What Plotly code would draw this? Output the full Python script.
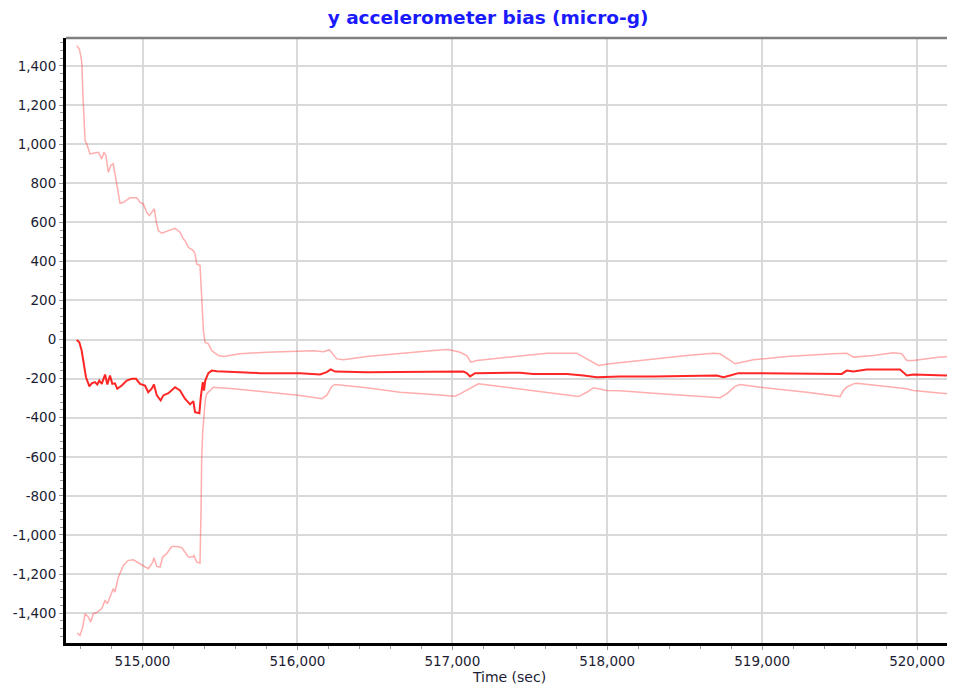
import plotly.graph_objects as go

# ---- data ----
t_mid = [514575, 514592, 514607, 514622, 514635, 514657, 514672, 514693, 514708, 514721,
         514737, 514758, 514773, 514790, 514805, 514822, 514837, 514866, 514898, 514930,
         514958, 514984, 515016, 515037, 515059, 515074, 515092, 515117, 515134, 515167,
         515210, 515242, 515274, 515307, 515328, 515339, 515367, 515376, 515389, 515397,
         515405, 515425, 515447, 515479, 515565, 515629, 515759, 516017, 516146, 516189,
         516215, 516243, 516447, 517017, 517071, 517093, 517114, 517147, 517308, 517437,
         517523, 517739, 517846, 517932, 518083, 518298, 518707, 518750, 518793, 518847,
         518987, 519331, 519514, 519546, 519589, 519675, 519890, 519934, 519976, 520192,
         520234]
v_mid = [-2, -14, -56, -124, -193, -240, -224, -218, -230, -210,
         -227, -179, -230, -184, -227, -224, -252, -235, -210, -201,
         -201, -227, -235, -270, -252, -230, -286, -312, -286, -275,
         -244, -261, -303, -332, -315, -372, -377, -295, -218, -261,
         -210, -172, -159, -162, -167, -167, -172, -172, -179, -167,
         -153, -164, -167, -167, -164, -172, -189, -172, -170, -170,
         -176, -176, -184, -193, -189, -189, -184, -193, -184, -172,
         -172, -176, -176, -159, -164, -153, -153, -184, -179, -184,
         -179]

t_up = [514575, 514592, 514603, 514609, 514614, 514618, 514622, 514629, 514640, 514650,
        514661, 514682, 514715, 514726, 514737, 514751, 514764, 514779, 514795, 514811,
        514822, 514833, 514844, 514855, 514876, 514919, 514963, 514984, 515005, 515027,
        515044, 515066, 515076, 515087, 515102, 515124, 515156, 515210, 515242, 515263,
        515274, 515296, 515328, 515339, 515350, 515371, 515382, 515393, 515403, 515425,
        515447, 515489, 515522, 515629, 515802, 516017, 516100, 516170, 516206, 516254,
        516296, 516447, 516662, 516877, 516974, 517050, 517093, 517119, 517158, 517308,
        517523, 517610, 517803, 517868, 517943, 518018, 518083, 518298, 518513, 518685,
        518728, 518793, 518825, 518943, 519159, 519460, 519546, 519589, 519718, 519847,
        519901, 519934, 519976, 520149, 520246]
v_up = [1504, 1487, 1444, 1410, 1274, 1188, 1086, 1018, 1001, 975,
        950, 953, 958, 941, 924, 958, 941, 856, 890, 899,
        848, 779, 728, 697, 702, 725, 725, 702, 694, 651,
        634, 660, 669, 609, 558, 544, 554, 569, 549, 515,
        506, 472, 455, 438, 387, 379, 216, 46, -14, -22,
        -56, -82, -87, -73, -65, -58, -58, -62, -52, -99,
        -104, -87, -70, -56, -51, -65, -82, -116, -107, -94,
        -77, -70, -70, -99, -133, -124, -118, -99, -82, -70,
        -73, -107, -124, -104, -87, -73, -70, -90, -82, -68,
        -73, -107, -107, -90, -87]

t_lo = [514579, 514596, 514614, 514629, 514650, 514666, 514682, 514708, 514737, 514758,
        514773, 514790, 514811, 514822, 514844, 514876, 514908, 514941, 515001, 515037,
        515066, 515074, 515092, 515113, 515130, 515156, 515188, 515221, 515253, 515296,
        515324, 515332, 515350, 515371, 515378, 515382, 515389, 515396, 515405, 515414,
        515457, 515586, 515802, 516017, 516157, 516189, 516222, 516243, 516447, 516662,
        516877, 517017, 517050, 517114, 517168, 517308, 517523, 517814, 517868, 517911,
        517997, 518083, 518298, 518513, 518728, 518771, 518825, 518857, 518987, 519288,
        519503, 519524, 519546, 519589, 519611, 519934, 519976, 520246]
v_lo = [-1502, -1514, -1472, -1403, -1420, -1446, -1403, -1395, -1377, -1335,
        -1352, -1318, -1275, -1293, -1216, -1156, -1130, -1127, -1156, -1173,
        -1139, -1117, -1161, -1165, -1113, -1096, -1059, -1059, -1065, -1113,
        -1113, -1105, -1139, -1144, -858, -602, -470, -380, -310, -278,
        -244, -252, -270, -286, -303, -286, -240, -230, -247, -270,
        -281, -290, -278, -252, -227, -240, -261, -292, -270, -247,
        -261, -262, -275, -286, -298, -278, -240, -230, -244, -270,
        -292, -261, -244, -227, -224, -252, -261, -281]

x_ticks = [515000, 516000, 517000, 518000, 519000, 520000]
x_tick_labels = ["515,000", "516,000", "517,000", "518,000", "519,000", "520,000"]
y_ticks = [1400, 1200, 1000, 800, 600, 400, 200, 0, -200, -400, -600, -800, -1000, -1200, -1400]
y_tick_labels = ["1,400", "1,200", "1,000", "800", "600", "400", "200", "0", "-200", "-400",
                 "-600", "-800", "-1,000", "-1,200", "-1,400"]

title_text = "y accelerometer bias (micro-g)"
x_title = "Time (sec)"

FONT = "DejaVu Sans"
TICK_COLOR = "#1c1c33"
bound_color = "rgba(255,60,60,0.42)"

# the page body adds an 8px offset; the figure is sized to fit inside the window
W, H = 947, 683

fig = go.Figure()
fig.add_trace(go.Scatter(x=t_up, y=v_up, mode="lines",
                         line=dict(color=bound_color, width=1.5), showlegend=False))
fig.add_trace(go.Scatter(x=t_lo, y=v_lo, mode="lines",
                         line=dict(color=bound_color, width=1.5), showlegend=False))
fig.add_trace(go.Scatter(x=t_mid, y=v_mid, mode="lines",
                         line=dict(color="rgba(255,0,0,0.85)", width=2), showlegend=False))

fig.update_layout(
    width=W, height=H,
    margin=dict(l=58, r=2, t=30, b=48),
    paper_bgcolor="white", plot_bgcolor="white",
    title=dict(text="<b>" + title_text + "</b>", x=480 / W, xref="container", xanchor="center",
               y=1 - 10 / H, yref="container", yanchor="middle",
               font=dict(family=FONT, size=18.5, color="#1a1aff")),
    font=dict(family=FONT, size=13.5, color=TICK_COLOR),
)

fig.update_xaxes(
    range=[514506, 520232],
    tickvals=x_ticks, ticktext=x_tick_labels,
    showgrid=True, gridcolor="#d9d9d9", gridwidth=2,
    showline=True, linecolor="black", linewidth=2.5,
    ticks="outside", ticklen=4, tickcolor="#999999",
    minor=dict(dtick=200, ticks="outside", ticklen=3, tickcolor="#999999", showgrid=False),
    zeroline=False,
    title=dict(text=x_title, font=dict(family=FONT, size=14, color=TICK_COLOR), standoff=4),
    tickfont=dict(family=FONT, size=13.5, color=TICK_COLOR),
)
fig.update_yaxes(
    range=[-1553, 1543],
    tickvals=y_ticks, ticktext=y_tick_labels,
    showgrid=True, gridcolor="#d9d9d9", gridwidth=2,
    showline=True, linecolor="black", linewidth=3,
    ticks="outside", ticklen=4, tickcolor="#999999",
    minor=dict(dtick=40, tick0=0, ticks="outside", ticklen=3, tickcolor="#999999", showgrid=False),
    zeroline=False,
    tickfont=dict(family=FONT, size=13.5, color=TICK_COLOR),
)

fig.add_shape(type="line", xref="paper", yref="paper", x0=0, x1=1, y0=1, y1=1,
              line=dict(color="#808080", width=2.5))

fig.write_html("out.html")
